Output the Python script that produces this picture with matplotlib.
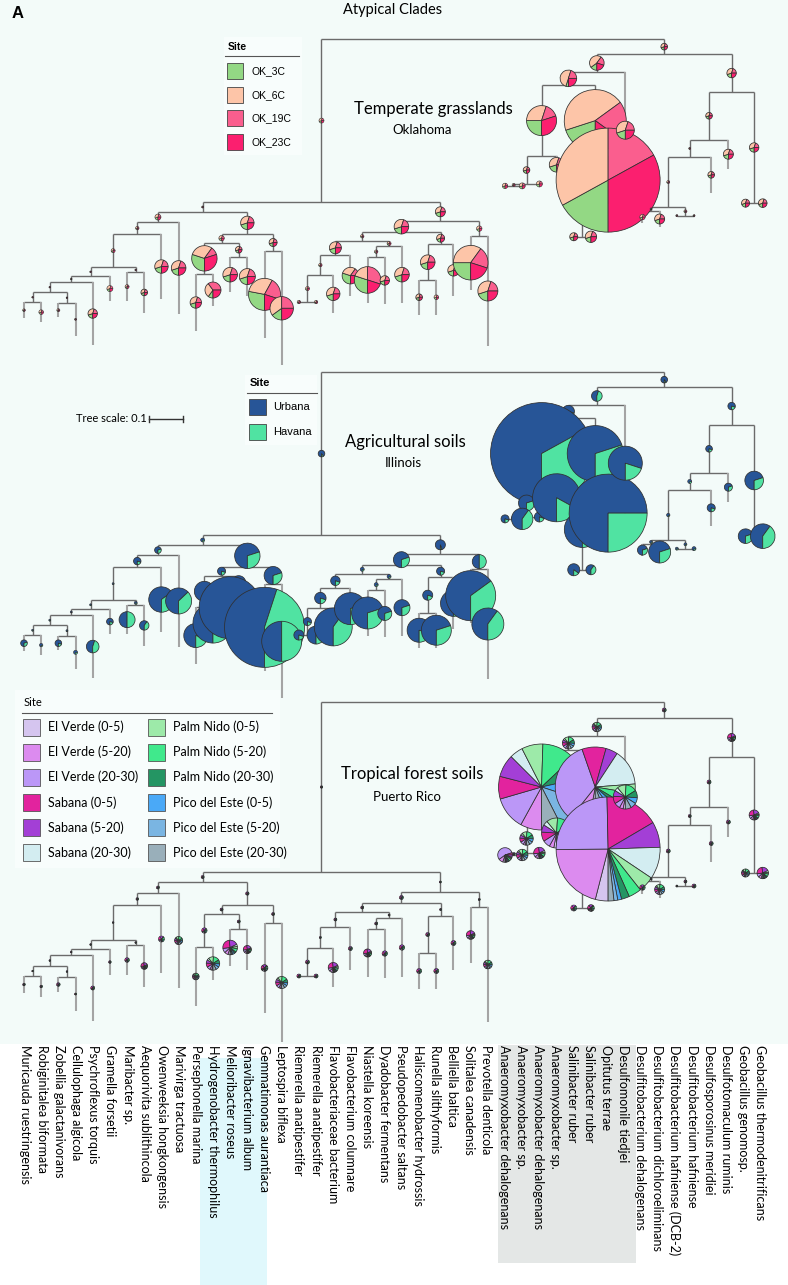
import matplotlib
matplotlib.use("Agg")
import matplotlib.pyplot as plt
from matplotlib.patches import Wedge, Rectangle

W, H = 788, 1285

leaf_names = [
    "Muricauda ruestringensis", "Robiginitalea biformata", "Zobellia galactanivorans",
    "Cellulophaga algicola", "Psychroflexus torquis", "Gramella forsetii", "Maribacter sp.",
    "Aequorivita sublithincola", "Owenweeksia hongkongensis", "Marivirga tractuosa",
    "Persephonella marina", "Hydrogenobacter thermophilus", "Melioribacter roseus",
    "Ignavibacterium album", "Gemmatimonas aurantiaca", "Leptospira biflexa",
    "Riemerella anatipestifer", "Riemerella anatipestifer", "Flavobacteriaceae bacterium",
    "Flavobacterium columnare", "Niastella koreensis", "Dyadobacter fermentans",
    "Pseudopedobacter saltans", "Haliscomenobacter hydrossis", "Runella slithyformis",
    "Belliella baltica", "Solitalea canadensis", "Prevotella denticola",
    "Anaeromyxobacter dehalogenans", "Anaeromyxobacter sp.", "Anaeromyxobacter dehalogenans",
    "Anaeromyxobacter sp.", "Salinibacter ruber", "Salinibacter ruber", "Opitutus terrae",
    "Desulfomonile tiedjei", "Desulfitobacterium dehalogenans",
    "Desulfitobacterium dichloroeliminans", "Desulfitobacterium hafniense (DCB-2)",
    "Desulfitobacterium hafniense", "Desulfosporosinus meridiei", "Desulfotomaculum ruminis",
    "Geobacillus genomosp.", "Geobacillus thermodenitrificans",
]

# shared topology (leaves are indices into leaf_names)
children = {
    'R': ['L', 'Rt'], 'L': ['A', 'Bx'], 'A': ['B', 'E'], 'B': ['C', 9], 'C': ['D', 8],
    'D': ['D1', 'D2'], 'D1': ['D1a', 5], 'D1a': ['D1b', 4], 'D1b': ['D1c', 'D1d'],
    'D1c': [0, 1], 'D1d': [2, 3], 'D2': [6, 7], 'E': ['F', 'G'], 'F': ['F1', 'F2'],
    'F1': [10, 11], 'F2': [12, 13], 'G': [14, 15], 'Bx': ['H', 'I'], 'H': ['J', 'K'],
    'J': ['J1', 'J2'], 'J1': ['J1a', 19], 'J1a': ['J1b', 18], 'J1b': [16, 17],
    'J2': ['J2a', 22], 'J2a': [20, 21], 'K': ['K1', 25], 'K1': [23, 24], 'I': [26, 27],
    'Rt': ['M', 'N'], 'M': ['M1', 35], 'M1': ['S', 'T'], 'S': ['Y', 31], 'Y': ['X', 30],
    'X': [28, 29], 'T': ['W', 34], 'W': [32, 33], 'N': ['N1', 'N2'], 'N1': ['N1a', 41],
    'N1a': ['N1b', 40], 'N1b': ['P', 'Q'], 'P': [36, 37], 'Q': [38, 39], 'N2': [42, 43],
}

# node heights read on the Puerto Rico panel (pixels)
node_y = {
    'R': 702, 'L': 872, 'A': 882, 'B': 893, 'C': 905, 'D': 940, 'D1': 949, 'D1a': 955,
    'D1b': 966, 'D1c': 976, 'D1d': 977, 'D2': 945, 'E': 905, 'F': 914, 'F1': 947,
    'F2': 929, 'G': 923, 'Bx': 892, 'H': 903, 'J': 912, 'J1': 927, 'J1a': 948,
    'J1b': 976, 'J2': 918, 'J2a': 929, 'K': 916, 'K1': 953, 'I': 907, 'Rt': 718,
    'M': 736, 'M1': 750, 'S': 824, 'Y': 853, 'X': 855, 'T': 824, 'W': 908, 'N': 757,
    'N1': 807, 'N1a': 825, 'N1b': 877, 'P': 881, 'Q': 886, 'N2': 873,
}
tip_y = [993, 997, 992, 1011, 1021, 975, 975, 987, 973, 988, 1006, 980, 966, 970, 1013,
         1042, 976, 976, 987, 970, 977, 978, 977, 989, 989, 970, 963, 1022, 855, 855,
         853, 842, 908, 908, 874, 858, 894, 898, 886, 886, 862, 837, 873, 873]

panel_root_y = [39, 372, 702]
panel_scale = [0.96, 0.96, 1.0]

# ---- Oklahoma ----
ok_sites = ['OK_3C', 'OK_6C', 'OK_19C', 'OK_23C']
ok_colors = ['#93d884', '#fdc5a8', '#fa5e8e', '#fb1f6f']
ok_radius = {
    0: 1.3, 1: 2.3, 2: 1.5, 3: 1.0, 4: 4.7, 5: 3.0, 6: 2.0, 7: 3.3, 8: 6.7, 9: 7.3,
    10: 5.7, 11: 8.0, 12: 7.3, 13: 8.0, 14: 16, 15: 11.7, 16: 1.7, 17: 1.7, 18: 6.7,
    19: 8.3, 20: 13.3, 21: 4.7, 22: 7.3, 23: 3.3, 24: 2.3, 25: 5.7, 26: 17.3, 27: 10,
    28: 2.7, 29: 3.0, 30: 3.0, 31: 7.3, 32: 4.0, 33: 5.7, 34: 52, 35: 9.0, 36: 2.7,
    37: 5.0, 38: 1.0, 39: 1.0, 40: 3.3, 41: 5.0, 42: 4.0, 43: 4.3,
    'L': 2.5, 'A': 1.0, 'B': 3.0, 'C': 1.7, 'D': 2.0, 'D1': 0.8, 'D1a': 0.8, 'D1b': 0.8,
    'D1c': 0.8, 'D1d': 0.8, 'D2': 0.8, 'E': 6.7, 'F': 2.7, 'F1': 12.7, 'F2': 3.3, 'G': 4.0,
    'Bx': 5.0, 'H': 7.3, 'J': 1.7, 'J1': 6.0, 'J1a': 1.7, 'J1b': 2.0, 'J2': 2.0,
    'J2a': 1.7, 'K': 4.0, 'K1': 7.3, 'I': 2.7, 'Rt': 3.3, 'M': 7.3, 'M1': 8.3, 'S': 15,
    'Y': 3.3, 'X': 1.5, 'T': 31, 'W': 2.0, 'N': 4.7, 'N1': 3.3, 'N1a': 1.0, 'N1b': 1.5,
    'P': 1.0, 'Q': 1.5, 'N2': 4.7,
}
ok_default = [0.2, 0.35, 0.2, 0.25]
ok_mix = {
    34: [0.17, 0.33, 0.17, 0.33], 'S': [0.25, 0.30, 0.15, 0.30], 'T': [0.2, 0.45, 0.2, 0.15],
    'F1': [0.3, 0.3, 0.1, 0.3], 14: [0.28, 0.30, 0.22, 0.20], 15: [0.15, 0.35, 0.25, 0.25],
    20: [0.3, 0.2, 0.3, 0.2], 26: [0.25, 0.35, 0.2, 0.2], 'M1': [0.05, 0.5, 0.2, 0.25],
    'M': [0.15, 0.45, 0.2, 0.2], 11: [0.1, 0.3, 0.35, 0.25], 19: [0.3, 0.3, 0.15, 0.25],
}

# ---- Illinois ----
il_sites = ['Urbana', 'Havana']
il_colors = ['#275597', '#50e3a2']
il_radius = {
    0: 3.3, 1: 1.7, 2: 3.3, 3: 2.0, 4: 6.3, 5: 3.3, 6: 8.0, 7: 4.7, 8: 12.7, 9: 13,
    10: 12, 11: 20, 12: 31, 13: 10, 14: 40, 15: 20, 16: 5, 17: 9, 18: 19, 19: 16, 20: 16,
    21: 7, 22: 8, 23: 12, 24: 15, 25: 13, 26: 25, 27: 16, 28: 4, 29: 10.7, 30: 5, 31: 24,
    32: 6, 33: 5, 34: 39, 35: 17, 36: 5, 37: 11, 38: 1.5, 39: 2, 40: 4, 41: 4, 42: 7.3,
    43: 12.3,
    'L': 3.3, 'A': 2.0, 'B': 3.3, 'C': 3.7, 'D': 1.0, 'D1': 1.0, 'D1a': 1.0, 'D1b': 1.0,
    'D1c': 1.0, 'D1d': 1.0, 'D2': 1.5, 'E': 12.7, 'F': 4, 'F1': 10, 'F2': 7, 'G': 9,
    'Bx': 5, 'H': 8, 'J': 2, 'J1': 4.7, 'J1a': 5.7, 'J1b': 4, 'J2': 2, 'J2a': 2, 'K': 4,
    'K1': 5, 'I': 7, 'Rt': 3.3, 'M': 5.3, 'M1': 6, 'S': 51, 'Y': 8, 'X': 2, 'T': 28,
    'W': 18, 'N': 3.7, 'N1': 3.3, 'N1a': 2, 'N1b': 1.7, 'P': 1.5, 'Q': 1.5, 'N2': 9.3,
}
il_havana_default = 0.2
il_havana = {
    0: 0.3, 4: 0.45, 6: 0.5, 7: 0.4, 8: 0.35, 9: 0.37, 10: 0.2, 11: 0.25, 12: 0.15,
    14: 0.45, 15: 0.5, 17: 0.5, 18: 0.4, 19: 0.3, 20: 0.3, 21: 0.3, 22: 0.3, 24: 0.3,
    25: 0.25, 26: 0.35, 27: 0.4, 29: 0.4, 31: 0.17, 32: 0.15, 33: 0.4, 34: 0.25, 36: 0.3,
    37: 0.3, 41: 0.3, 42: 0.3, 43: 0.4, 'B': 0.3, 'E': 0.3, 'G': 0.3, 'H': 0.3, 'I': 0.5,
    'M': 0.45, 'S': 0.33, 'T': 0.3, 'Y': 0.3, 'N2': 0.3, 'Bx': 0.05, 'Rt': 0.1, 'W': 0.05,
    'L': 0.1,
}

# ---- Puerto Rico ----
pr_sites = ['El Verde (0-5)', 'El Verde (5-20)', 'El Verde (20-30)', 'Sabana (0-5)',
            'Sabana (5-20)', 'Sabana (20-30)', 'Palm Nido (0-5)', 'Palm Nido (5-20)',
            'Palm Nido (20-30)', 'Pico del Este (0-5)', 'Pico del Este (5-20)',
            'Pico del Este (20-30)']
pr_colors = ['#d5c5ef', '#dc8bef', '#bb97f7', '#e2239e', '#a33fd6', '#d3edf1',
             '#9deaa9', '#40e98c', '#249563', '#4aa9f7', '#7ab5e2', '#99afba']
pr_radius = {
    0: 1.3, 1: 1.3, 2: 1.8, 3: 1.0, 4: 2.0, 5: 1.3, 6: 2.3, 7: 3.3, 8: 3.0, 9: 4.0,
    10: 3.3, 11: 6.7, 12: 7.3, 13: 4.0, 14: 3.3, 15: 6.0, 16: 2.0, 17: 2.0, 18: 5.0,
    19: 2.0, 20: 4.0, 21: 2.7, 22: 2.7, 23: 2.5, 24: 2.5, 25: 2.5, 26: 4.3, 27: 4.3,
    28: 7.3, 29: 5.7, 30: 5.7, 31: 15, 32: 3.0, 33: 3.3, 34: 52, 35: 12, 36: 2.7, 37: 5.0,
    38: 1.0, 39: 2.0, 40: 2.0, 41: 2.0, 42: 4.0, 43: 5.7,
    'L': 1.2, 'A': 1.5, 'B': 1.5, 'C': 1.3, 'D': 0.8, 'D1': 0.8, 'D1a': 0.8, 'D1b': 0.8,
    'D1c': 0.8, 'D1d': 0.8, 'D2': 0.8, 'E': 1.7, 'F': 1.5, 'F1': 2.7, 'F2': 1.5, 'G': 1.5,
    'Bx': 1.0, 'H': 2.0, 'J': 1.5, 'J1': 1.5, 'J1a': 1.0, 'J1b': 2.0, 'J2': 1.0,
    'J2a': 1.5, 'K': 1.0, 'K1': 2.0, 'I': 1.0, 'Rt': 2.0, 'M': 4.7, 'M1': 6.0, 'S': 43,
    'Y': 6.7, 'X': 1.5, 'T': 40, 'W': 1.5, 'N': 4.0, 'N1': 2.0, 'N1a': 1.5, 'N1b': 2.0,
    'P': 1.0, 'Q': 1.5, 'N2': 5.0,
}
pr_profiles = {
    'big': [0.04, 0.21, 0.25, 0.17, 0.08, 0.10, 0.05, 0.04, 0.025, 0.012, 0.012, 0.018],
    'S': [0.0, 0.08, 0.125, 0.085, 0.085, 0.05, 0.08, 0.125, 0.085, 0.085, 0.125, 0.075],
    'T': [0.03, 0.08, 0.35, 0.10, 0.05, 0.15, 0.04, 0.06, 0.03, 0.04, 0.04, 0.06],
    'greenblue': [0.03, 0.05, 0.08, 0.10, 0.08, 0.05, 0.12, 0.15, 0.10, 0.08, 0.08, 0.08],
    'purple': [0.05, 0.08, 0.10, 0.25, 0.20, 0.05, 0.05, 0.08, 0.04, 0.04, 0.03, 0.03],
    'lavender': [0.05, 0.10, 0.55, 0.05, 0.05, 0.02, 0.03, 0.05, 0.03, 0.03, 0.02, 0.02],
    'dark': [0.10, 0.05, 0.05, 0.20, 0.20, 0.02, 0.05, 0.10, 0.13, 0.05, 0.03, 0.02],
}
pr_profile_of = {
    34: 'big', 'S': 'S', 'T': 'T', 31: 'greenblue', 28: 'lavender', 11: 'greenblue',
    12: 'purple', 15: 'greenblue', 18: 'purple', 20: 'purple', 43: 'purple', 'M': 'greenblue',
    'M1': 'greenblue', 35: 'greenblue', 29: 'greenblue', 30: 'purple', 'Y': 'greenblue',
    37: 'greenblue', 'N2': 'purple', 42: 'greenblue', 26: 'purple', 27: 'greenblue',
    7: 'purple', 9: 'greenblue', 13: 'purple', 'N': 'purple', 10: 'greenblue',
}

line_dark = '#6b6b6b'
line_light = '#a4a4a4'

fig = plt.figure(figsize=(W / 100, H / 100), dpi=100, facecolor='white')
ax = fig.add_axes([0, 0, 1, 1])
ax.set_xlim(0, W)
ax.set_ylim(H, 0)
ax.axis('off')

ax.add_patch(Rectangle((0, 0), W, 1044, facecolor='#f3fbf9', edgecolor='none', zorder=0))
ax.add_patch(Rectangle((200, 1058), 67, 227, facecolor='#e0f8fc', edgecolor='none', zorder=0))
ax.add_patch(Rectangle((498, 1045), 138, 218, facecolor='#e4e7e6', edgecolor='none', zorder=0))

parent = {}
for p, ch in children.items():
    for c in ch:
        parent[c] = p


def node_x(n):
    if isinstance(n, int):
        return 24 + 17.18 * n
    ch = children[n]
    return (node_x(ch[0]) + node_x(ch[-1])) / 2


def node_ypos(n, k):
    yb = tip_y[n] if isinstance(n, int) else node_y[n]
    return panel_root_y[k] + panel_scale[k] * (yb - 702)


def preorder(n, out):
    out.append(n)
    if not isinstance(n, int):
        for c in children[n]:
            preorder(c, out)
    return out


order = preorder('R', [])


def draw_pie(cx, cy, r, fracs, cols, z):
    # slices run clockwise from 6 o'clock (y axis is inverted)
    tot = float(sum(fracs))
    a = 90.0
    lw = 0.55 if r > 3 else 0.4
    for f, c in zip(fracs, cols):
        if f <= 0:
            continue
        span = 360.0 * f / tot
        ax.add_patch(Wedge((cx, cy), r, a, a + span, facecolor=c, edgecolor='#2f2f2f',
                           lw=lw, zorder=z))
        a += span


def draw_tree(k, radius, comp_of, cols):
    for n in order:
        if isinstance(n, int):
            continue
        yn = node_ypos(n, k)
        ch = children[n]
        ax.plot([node_x(ch[0]), node_x(ch[-1])], [yn, yn], color=line_dark, lw=1.0,
                zorder=1, solid_capstyle='butt')
        for c in ch:
            yc = node_ypos(c, k)
            if yc - yn > 0.5:
                leaf = isinstance(c, int)
                ax.plot([node_x(c)] * 2, [yn, yc], color=line_light if leaf else line_dark,
                        lw=1.5 if leaf else 1.0, zorder=1, solid_capstyle='butt')
    z = 2
    for n in order:
        if n == 'R':
            continue
        yp = node_ypos(parent[n], k)
        yc = node_ypos(n, k)
        draw_pie(node_x(n), (yp + yc) / 2, radius[n], comp_of(n), cols, z)
        z += 0.01


draw_tree(0, ok_radius, lambda n: ok_mix.get(n, ok_default), ok_colors)
draw_tree(1, il_radius,
          lambda n: [1 - il_havana.get(n, il_havana_default), il_havana.get(n, il_havana_default)],
          il_colors)
draw_tree(2, pr_radius, lambda n: pr_profiles[pr_profile_of.get(n, 'dark')], pr_colors)

# titles
ax.text(12, 13, 'A', fontsize=12, fontweight='bold', family='Liberation Sans', va='center')
ax.text(393, 10, 'Atypical Clades', fontsize=10.5, family='Lato', ha='center', va='center')
ax.text(433, 109, 'Temperate grasslands', fontsize=12, family='Lato', ha='center',
        va='center', zorder=5)
ax.text(422, 130, 'Oklahoma', fontsize=9.5, family='Lato', ha='center', va='center', zorder=5)
ax.text(405, 442, 'Agricultural soils', fontsize=12, family='Lato', ha='center',
        va='center', zorder=5)
ax.text(403, 463, 'Illinois', fontsize=9.5, family='Lato', ha='center', va='center', zorder=5)
ax.text(412, 774, 'Tropical forest soils', fontsize=12, family='Lato', ha='center',
        va='center', zorder=5)
ax.text(407, 797, 'Puerto Rico', fontsize=9.5, family='Lato', ha='center', va='center', zorder=5)

# tree scale
ax.text(147, 419, 'Tree scale: 0.1', fontsize=8, family='Lato', ha='right', va='center')
ax.plot([149, 183], [419, 419], color='#333333', lw=1.0)
ax.plot([149, 149], [416, 422], color='#333333', lw=1.0)
ax.plot([183, 183], [416, 422], color='#333333', lw=1.0)

# Oklahoma legend
ax.add_patch(Rectangle((224, 37), 78, 118, facecolor='#f8fdfc', edgecolor='none', zorder=3))
ax.text(228, 47, 'Site', fontsize=7.5, fontweight='bold', family='Liberation Sans',
        va='center', zorder=4)
ax.plot([225, 299], [56, 56], color='#555555', lw=0.8, zorder=4)
for i, (lab, col) in enumerate(zip(ok_sites, ok_colors)):
    yy = 71 + 23.7 * i
    ax.add_patch(Rectangle((227, yy - 8), 16, 16, facecolor=col, edgecolor='#444444',
                           lw=0.6, zorder=4))
    ax.text(252, yy, lab, fontsize=7.5, family='Liberation Sans', va='center', zorder=4)

# Illinois legend
ax.add_patch(Rectangle((245, 375), 72, 70, facecolor='#f8fdfc', edgecolor='none', zorder=3))
ax.text(250, 383, 'Site', fontsize=8, fontweight='bold', family='Liberation Sans',
        va='center', zorder=4)
ax.plot([247, 317], [393, 393], color='#555555', lw=0.8, zorder=4)
for i, (lab, col) in enumerate(zip(il_sites, il_colors)):
    yy = 407 + 25 * i
    ax.add_patch(Rectangle((249, yy - 8), 17, 16, facecolor=col, edgecolor='#444444',
                           lw=0.6, zorder=4))
    ax.text(273, yy, lab, fontsize=8, family='Liberation Sans', va='center', zorder=4)

# Puerto Rico legend
ax.add_patch(Rectangle((15, 690), 265, 178, facecolor='#f8fdfc', edgecolor='none', zorder=3))
ax.text(24, 703, 'Site', fontsize=8, family='Lato', va='center', zorder=4)
ax.plot([22, 272], [713, 713], color='#555555', lw=0.8, zorder=4)
for i, (lab, col) in enumerate(zip(pr_sites, pr_colors)):
    cx = 23 if i < 6 else 148
    yy = 727 + 25.1 * (i % 6)
    ax.add_patch(Rectangle((cx, yy - 8.5), 17, 17, facecolor=col, edgecolor='#555555',
                           lw=0.6, zorder=4))
    ax.text(cx + 25, yy, lab, fontsize=9, family='Lato', va='center', zorder=4)

# leaf labels
for i, name in enumerate(leaf_names):
    ax.text(25 + 17.09 * i, 1045, name, rotation=270, ha='center', va='top', fontsize=9,
            family='Lato', zorder=4)

fig.savefig('out.png', dpi=100, facecolor='white')
